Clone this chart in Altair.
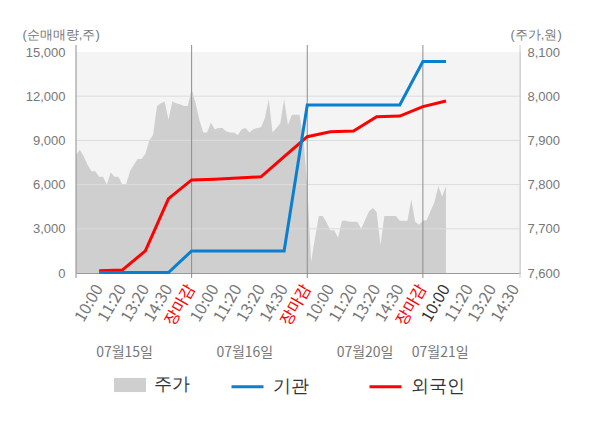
import altair as alt
import pandas as pd

FONT = "Noto Sans CJK KR"
W, H = 444, 221
X_MAX = 19.2

# ---- axis / label data ----
tick_labels = ["10:00", "11:20", "13:20", "14:30", "장마감"] * 3 + ["10:00", "11:20", "13:20", "14:30"]
tick_idx = list(range(1, 20))
day_bounds = [0, 5, 10, 15]
left_ticks = [0, 3000, 6000, 9000, 12000, 15000]
grid_vals = [3000, 6000, 9000, 12000]
right_ticks = [7600, 7700, 7800, 7900, 8000, 8100]
dates = ["07월15일", "07월16일", "07월20일", "07월21일"]
date_pos = [2.1, 7.3, 12.5, 15.75]

# ---- series: cumulative net buying (shares) ----
line_idx = list(range(1, 17))
inst = [30, 30, 30, 30, 1500, 1500, 1500, 1500, 1500, 11400, 11400, 11400, 11400, 11400, 14350, 14350]
foreign = [150, 200, 1500, 5050, 6320, 6370, 6450, 6530, 7900, 9250, 9590, 9640, 10610, 10655, 11290, 11675]

# ---- price (won), 30 readings per trading day ----
price_day1 = [7867, 7879, 7864, 7845, 7830, 7830, 7818, 7818, 7800, 7828,
              7818, 7818, 7800, 7800, 7830, 7845, 7858, 7858, 7870, 7900,
              7912, 7977, 7984, 7988, 7947, 7988, 7984, 7982, 7978, 7978]
price_day2 = [8016, 7985, 7947, 7918, 7918, 7940, 7925, 7928, 7928, 7920,
              7918, 7918, 7912, 7925, 7928, 7918, 7925, 7928, 7930, 7950,
              7993, 7918, 7928, 7939, 7993, 7935, 7958, 7958, 7958, 7905]
price_day3 = [7796, 7625, 7679, 7729, 7729, 7715, 7697, 7697, 7680, 7718,
              7718, 7716, 7716, 7716, 7700, 7720, 7739, 7747, 7738, 7663,
              7729, 7729, 7729, 7729, 7718, 7718, 7718, 7767, 7716, 7709]
price_day4 = [7718, 7720, 7740, 7760, 7796, 7773, 7796]

rows = []
for d, vals in enumerate([price_day1, price_day2, price_day3, price_day4]):
    for k, v in enumerate(vals):
        rows.append({"t": 5 * d + k / 6, "price": v, "s": "주가"})
area_df = pd.DataFrame(rows)

lines_df = pd.DataFrame({
    "t": line_idx * 2,
    "v": inst + foreign,
    "series": ["기관"] * len(inst) + ["외국인"] * len(foreign),
})
bounds_df = pd.DataFrame({"b": day_bounds})
grid_df = pd.DataFrame({"g": grid_vals})
date_df = pd.DataFrame({"pos": date_pos, "label": dates})
tick_df = pd.DataFrame({"i": tick_idx, "label": tick_labels})

x_scale = alt.Scale(domain=[0, X_MAX], nice=False, zero=False)
left_scale = alt.Scale(domain=[0, 15000], nice=False, zero=False)
right_scale = alt.Scale(domain=[7600, 8100], nice=False, zero=False)

x_axis = alt.Axis(values=tick_idx, labels=False, ticks=False, grid=False,
                  domainColor="#999999", title=None)
X = alt.X("t:Q", scale=x_scale, axis=x_axis)

left_axis = alt.Axis(
    orient="left", values=left_ticks, labelExpr="format(datum.value, ',')",
    grid=False, ticks=False, domain=False,
    labelColor="#777777", labelFontSize=13, labelPadding=11, labelFlush=False,
    title="(순매매량,주)", titleAngle=0, titleX=-54, titleY=-18, titleAlign="left",
    titleBaseline="middle", titleColor="#777777", titleFontSize=13, titleFontWeight="normal",
)
right_axis = alt.Axis(
    orient="right", values=right_ticks, labelExpr="format(datum.value, ',')",
    grid=False, ticks=False, domain=False,
    labelColor="#777777", labelFontSize=13, labelPadding=7, labelFlush=False,
    title="(주가,원)", titleAngle=0, titleX=-10, titleY=-18, titleAlign="left",
    titleBaseline="middle", titleColor="#777777", titleFontSize=13, titleFontWeight="normal",
)

bg = alt.Chart(bounds_df.head(1)).mark_rect(color="#f4f4f4").encode(
    x=alt.value(0), x2=alt.value(W), y=alt.value(0), y2=alt.value(H),
)

area = alt.Chart(area_df).mark_area(opacity=1, interpolate="linear").encode(
    x=X,
    y=alt.Y("price:Q", scale=right_scale, axis=right_axis),
    y2=alt.datum(7600),
    color=alt.Color("s:N", scale=alt.Scale(domain=["주가"], range=["#cfcfcf"]),
                    legend=alt.Legend(orient="none", legendX=38, legendY=317,
                                      direction="horizontal", title=None,
                                      symbolType="M-1,-0.44H1V0.44H-1Z", symbolSize=1024,
                                      symbolStrokeWidth=0, labelFontSize=18,
                                      labelColor="#333333", labelOffset=8, padding=0)),
)

grid = alt.Chart(grid_df).mark_rule(color="#dcdcdc", strokeWidth=1).encode(
    x=alt.value(0), x2=alt.value(W),
    y=alt.Y("g:Q", scale=left_scale, axis=left_axis),
)

vrules = alt.Chart(bounds_df).mark_rule(color="#8c8c8c", strokeWidth=1).encode(
    x=alt.X("b:Q", scale=x_scale, axis=x_axis),
    y=alt.value(-7), y2=alt.value(H + 5),
)

redge = alt.Chart(bounds_df.head(1)).mark_rule(color="#cccccc", strokeWidth=1).encode(
    x=alt.value(W), y=alt.value(-7), y2=alt.value(H + 5),
)

line_color = alt.Color(
    "series:N",
    scale=alt.Scale(domain=["기관", "외국인"], range=["#0a7fcf", "#ff0000"]),
    legend=alt.Legend(orient="none", legendX=154, legendY=317, direction="horizontal",
                      columns=2, title=None, symbolType="stroke", symbolSize=1024,
                      symbolStrokeWidth=3, labelFontSize=18, labelColor="#333333",
                      labelOffset=8, columnPadding=54, padding=0),
)

red = alt.Chart(lines_df).transform_filter("datum.series == '외국인'").mark_line(strokeWidth=3).encode(
    x=X, y=alt.Y("v:Q", scale=left_scale, axis=left_axis), color=line_color,
)
blue = alt.Chart(lines_df).transform_filter("datum.series == '기관'").mark_line(strokeWidth=3).encode(
    x=X, y=alt.Y("v:Q", scale=left_scale, axis=left_axis), color=line_color,
)

ticktext = alt.Chart(tick_df).transform_calculate(
    col="datum.label == '장마감' ? '#ff0000' : (datum.i == 16 ? '#333333' : '#777777')"
).mark_text(angle=300, align="right", baseline="middle", fontSize=16, font=FONT).encode(
    x=alt.X("i:Q", scale=x_scale, axis=x_axis),
    y=alt.value(H + 13),
    text="label:N",
    color=alt.Color("col:N", scale=None),
)

dtext = alt.Chart(date_df).mark_text(fontSize=14, color="#777777", font=FONT, baseline="middle").encode(
    x=alt.X("pos:Q", scale=x_scale, axis=x_axis),
    y=alt.value(301),
    text="label:N",
)

left = alt.layer(grid, vrules, redge, red, blue, ticktext, dtext)

chart = alt.layer(bg, area, left).resolve_scale(
    y="independent", color="independent"
).properties(
    width=W, height=H,
    padding={"left": 68, "top": 44, "right": 60, "bottom": 130},
    autosize="none",
).configure_view(
    fill="#f4f4f4", stroke=None
).configure_axis(
    labelFont=FONT, titleFont=FONT
).configure_legend(
    labelFont=FONT
).configure(background="white")

chart.save("out.html", embed_options={"renderer": "svg", "actions": False})
